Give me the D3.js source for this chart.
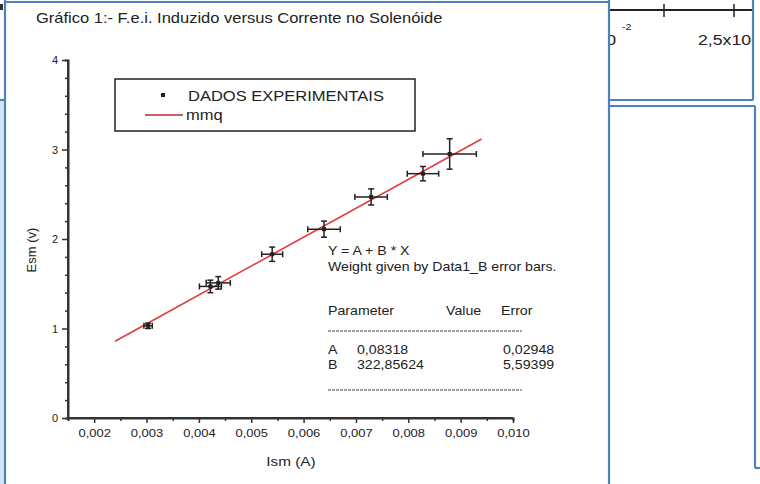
<!DOCTYPE html>
<html>
<head>
<meta charset="utf-8">
<script src="https://cdn.jsdelivr.net/npm/d3@7"></script>
<style>
  html, body { margin: 0; padding: 0; background: #fff; }
  svg { display: block; }
  text { font-family: "Liberation Sans", Arial, sans-serif; fill: #222; }
</style>
</head>
<body>
<svg id="chart" width="760" height="484"></svg>
<script>
// Induced EMF in the secondary coil versus current in the solenoid
const current    = [0.00303, 0.00422, 0.00437, 0.00540, 0.00639, 0.00729, 0.00828, 0.00879];
const emf        = [1.03, 1.47, 1.51, 1.83, 2.11, 2.47, 2.73, 2.95];
const currentErr = [0.00008, 0.00021, 0.00023, 0.00020, 0.00031, 0.00031, 0.00030, 0.00051];
const emfErr     = [0.03, 0.07, 0.07, 0.08, 0.09, 0.09, 0.08, 0.17];

// weighted least-squares fit  Y = A + B * X
const fitA = 0.08318, fitB = 322.85624;
const fitAErr = 0.02948, fitBErr = 5.59399;
const fitRange = [0.0024, 0.0094];

const xTickValues = [0.002, 0.003, 0.004, 0.005, 0.006, 0.007, 0.008, 0.009, 0.010];
const xTickLabels = ["0,002", "0,003", "0,004", "0,005", "0,006", "0,007", "0,008", "0,009", "0,010"];
const yTickValues = [0, 1, 2, 3, 4];
const yTickLabels = ["0", "1", "2", "3", "4"];

const titleText = "Gráfico 1:- F.e.i. Induzido versus Corrente no Solenóide";
const legendLabels = ["DADOS EXPERIMENTAIS", "mmq"];

const svg = d3.select("#chart");
const SX = 1.18; // glyphs are drawn slightly wide
const comma = v => String(v).replace(".", ",");

function stext(g, x, y, str, size, anchor) {
  return g.append("text")
    .attr("transform", `translate(${x},${y}) scale(${SX},1)`)
    .attr("font-size", size)
    .attr("text-anchor", anchor || "start")
    .text(str);
}

// ---- surrounding page frame ----
const frame = svg.append("g");
frame.append("rect").attr("x", 0).attr("y", 100).attr("width", 5).attr("height", 384).attr("fill", "#cfe8f0");
frame.append("rect").attr("x", 0).attr("y", 4).attr("width", 3).attr("height", 6).attr("fill", "#333");
const blue = "#4f81bd";
const frameLines = [
  [0, 100, 5, 100], [5, 0, 5, 484], [5, 2, 609, 2], [609, 0, 609, 484],
  [609, 100, 753, 100], [753, 0, 753, 100],
  [609, 106, 755, 106], [755, 106, 755, 468], [755, 468, 760, 468]
];
frame.selectAll("line.fr").data(frameLines).join("line")
  .attr("x1", d => d[0]).attr("y1", d => d[1]).attr("x2", d => d[2]).attr("y2", d => d[3])
  .attr("stroke", blue).attr("stroke-width", 2.2);

// neighbouring graph visible in the top-right panel
svg.append("defs").append("clipPath").attr("id", "side")
  .append("rect").attr("x", 610).attr("y", 0).attr("width", 142).attr("height", 99);
const side = svg.append("g").attr("clip-path", "url(#side)");
side.append("line").attr("x1", 600).attr("x2", 760).attr("y1", 10).attr("y2", 10)
  .attr("stroke", "#222").attr("stroke-width", 2);
side.selectAll("line.st").data([664, 734]).join("line")
  .attr("x1", d => d).attr("x2", d => d).attr("y1", 4).attr("y2", 17)
  .attr("stroke", "#222").attr("stroke-width", 1.5);
stext(side, 616, 45, "2,0x10", 15, "end");
stext(side, 622, 30, "-2", 9);
stext(side, 698, 45, "2,5x10", 15);

// ---- chart ----
const x = d3.scaleLinear().domain([0.0015, 0.010]).range([68, 513]);
const y = d3.scaleLinear().domain([0, 4]).range([418, 60]);
const g = svg.append("g");

stext(g, 36, 23, titleText, 14);

// axes
const axisColor = "#333";
const xAxis = d3.axisBottom(x).tickValues(xTickValues).tickSize(5).tickFormat((d, i) => xTickLabels[i]);
const xMinor = d3.axisBottom(x).tickValues(d3.range(0.0025, 0.0100, 0.001)).tickSize(3).tickFormat("");
const yAxis = d3.axisLeft(y).tickValues(yTickValues).tickSize(6).tickFormat((d, i) => yTickLabels[i]);
const yMinor = d3.axisLeft(y).tickValues(d3.range(0, 4.0001, 0.2).filter(v => Math.abs(v - Math.round(v)) > 1e-6)).tickSize(3).tickFormat("");

function styleAxis(sel) {
  sel.select(".domain").attr("stroke", axisColor).attr("stroke-width", 2);
  sel.selectAll(".tick line").attr("stroke", axisColor).attr("stroke-width", 1.5);
  sel.selectAll(".tick text").attr("font-size", 11).attr("fill", "#333")
    .attr("font-family", "Liberation Sans, Arial, sans-serif");
}
const gx = g.append("g").attr("transform", "translate(0,418)").call(xAxis).call(styleAxis);
gx.select(".domain").attr("d", "M68,0H513");
gx.selectAll(".tick text").attr("y", 11).attr("transform", `scale(${SX},1)`);
g.append("g").attr("transform", "translate(0,418)").call(xMinor).call(styleAxis);
g.append("g").attr("transform", "translate(68,0)").call(yMinor).call(styleAxis);
const gy = g.append("g").attr("transform", "translate(68,0)").call(yAxis).call(styleAxis);
gy.select(".domain").attr("d", "M0,418V60");
gy.selectAll(".tick text").attr("x", -10);

// axis titles
stext(g, 291, 466, "Ism (A)", 13, "middle");
g.append("text").attr("transform", "translate(36,250) rotate(-90)")
  .attr("font-size", 13).attr("text-anchor", "middle").text("Esm (v)");

// fitted line
const line = d3.line().x(d => x(d)).y(d => y(fitA + fitB * d));
g.append("path").datum(fitRange).attr("d", line)
  .attr("fill", "none").attr("stroke", "#e23c3c").attr("stroke-width", 1.6);

// error bars and points
const pts = current.map((c, i) => ({ c, e: emf[i], dc: currentErr[i], de: emfErr[i] }));
const ink = "#222";
const eb = g.append("g").attr("stroke", ink).attr("stroke-width", 1.5);
pts.forEach(p => {
  const cx = x(p.c), cy = y(p.e);
  const x0 = x(p.c - p.dc), x1 = x(p.c + p.dc), y0 = y(p.e - p.de), y1 = y(p.e + p.de);
  eb.append("line").attr("x1", x0).attr("x2", x1).attr("y1", cy).attr("y2", cy);
  eb.append("line").attr("x1", cx).attr("x2", cx).attr("y1", y0).attr("y2", y1);
  [x0, x1].forEach(xx => eb.append("line").attr("x1", xx).attr("x2", xx).attr("y1", cy - 3).attr("y2", cy + 3));
  [y0, y1].forEach(yy => eb.append("line").attr("x1", cx - 3).attr("x2", cx + 3).attr("y1", yy).attr("y2", yy));
});
g.append("g").selectAll("rect").data(pts).join("rect")
  .attr("x", d => x(d.c) - 2).attr("y", d => y(d.e) - 2)
  .attr("width", 4).attr("height", 4).attr("fill", ink);

// legend
const lg = g.append("g");
lg.append("rect").attr("x", 115).attr("y", 79).attr("width", 300).attr("height", 52)
  .attr("fill", "#fff").attr("stroke", "#222").attr("stroke-width", 1.5);
lg.append("rect").attr("x", 161).attr("y", 93).attr("width", 4).attr("height", 4).attr("fill", ink);
stext(lg, 188, 101, legendLabels[0], 14);
lg.append("line").attr("x1", 145).attr("x2", 183).attr("y1", 115).attr("y2", 115)
  .attr("stroke", "#c0282c").attr("stroke-width", 1.6);
stext(lg, 186, 120, legendLabels[1], 14);

// fit report
const rp = g.append("g");
stext(rp, 328, 255, "Y = A + B * X", 12);
stext(rp, 328, 271, "Weight given by Data1_B error bars.", 12);
stext(rp, 328, 315, "Parameter", 12);
stext(rp, 446, 315, "Value", 12);
stext(rp, 501, 315, "Error", 12);
const rows = [["A", fitA, fitAErr], ["B", fitB, fitBErr]];
rows.forEach((r, i) => {
  const by = 354 + i * 15;
  stext(rp, 328, by, r[0], 12);
  stext(rp, 357, by, comma(r[1]), 12);
  stext(rp, 503, by, comma(r[2]), 12);
});
[331, 390].forEach(yy => rp.append("line").attr("x1", 328).attr("x2", 522)
  .attr("y1", yy).attr("y2", yy).attr("stroke", "#444").attr("stroke-width", 1)
  .attr("stroke-dasharray", "3,1"));
</script>
</body>
</html>
